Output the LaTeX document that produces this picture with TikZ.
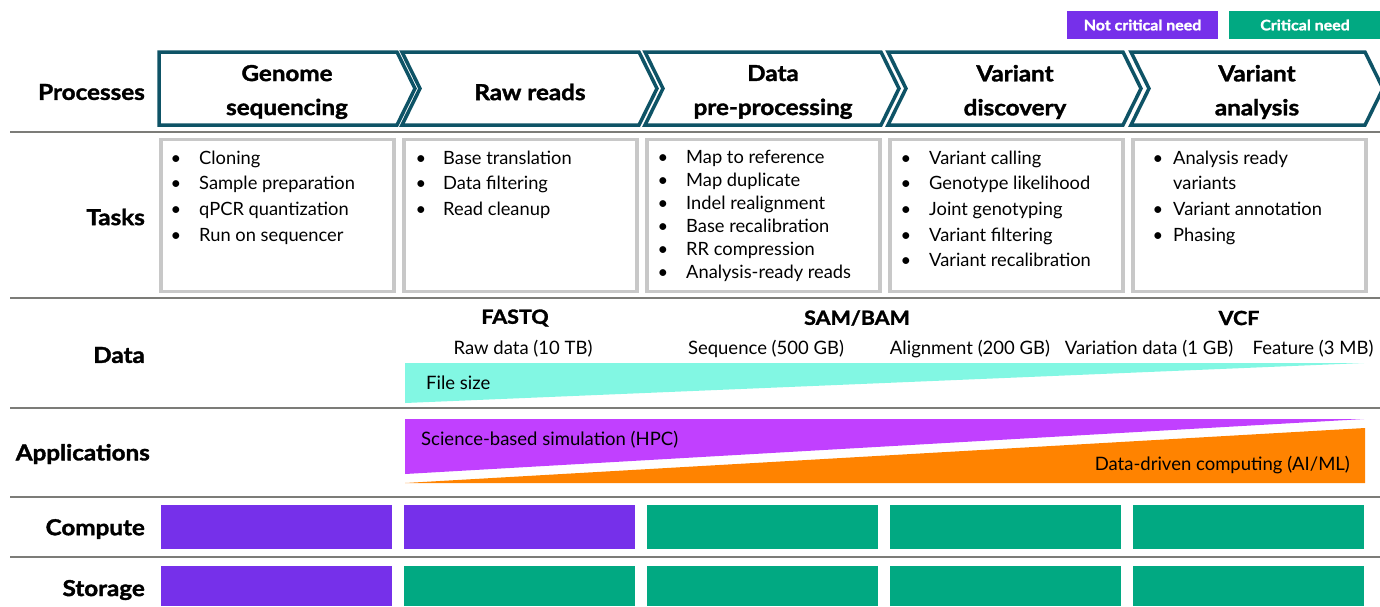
\documentclass[tikz,border=0pt]{standalone}
\usepackage{fontspec}
\setmainfont{Lato}[BoldFeatures={FakeBold=1.6,FakeStretch=1.1}]
\definecolor{chevc}{HTML}{0E5366}
\definecolor{boxgray}{HTML}{C8C8C8}
\definecolor{sepgray}{HTML}{7C7C78}
\definecolor{hpepurple}{HTML}{7630EA}
\definecolor{hpegreen}{HTML}{01A982}
\definecolor{filecyan}{HTML}{82F7E3}
\definecolor{apppurple}{HTML}{C140FF}
\definecolor{apporange}{HTML}{FF8300}
\begin{document}
\begin{tikzpicture}[x=1pt,y=-1pt]
\useasboundingbox (0,0) rectangle (1380,606);
\tikzset{
  chev/.style={draw=chevc, line width=3.5pt, fill=white, line join=miter},
  taskbox/.style={draw=boxgray, line width=3.5pt, fill=white},
  sep/.style={draw=sepgray, line width=2pt},
  rowlbl/.style={font=\bfseries\fontsize{22}{26}\selectfont, anchor=east, inner sep=0pt},
  chevtxt/.style={font=\bfseries\fontsize{22}{34}\selectfont, align=center, inner sep=0pt},
  tasktxt/.style={font=\fontsize{18.3}{22}\selectfont, inner sep=0pt},
  datahead/.style={font=\bfseries\fontsize{19.5}{24}\selectfont, inner sep=0pt},
  datatxt/.style={font=\fontsize{18.5}{22}\selectfont, inner sep=0pt},
  legtxt/.style={font=\bfseries\fontsize{14.5}{18}\selectfont, text=white, inner sep=0pt},
  critbox/.style={fill=hpegreen, draw=none},
  ncritbox/.style={fill=hpepurple, draw=none}
}
% legend
\fill[ncritbox] (1067,11) rectangle (1218,39);
\node[legtxt] (legn) at (1142.5,25) {Not critical need};
\fill[critbox] (1229,11) rectangle (1380,39);
\node[legtxt] (legc) at (1305,25) {Critical need};

% separators
\foreach \yy in {132,298,408,497,557} \draw[sep] (10,\yy) -- (1380,\yy);

% chevrons
\draw[chev] (159,52) -- (397,52) -- (415,88.5) -- (397,125) -- (159,125) -- cycle;
\foreach \i in {1,2,3,4} {
  \pgfmathsetmacro{\L}{159+243*\i}
  \pgfmathsetmacro{\R}{397+242*\i}
  \draw[chev] (\L,52) -- (\R,52) -- (\R+18,88.5) -- (\R,125) -- (\L,125) -- (\L+18,88.5) -- cycle;
}
\node[chevtxt] (p1) at (287,92) {Genome\\sequencing};
\node[chevtxt] (p2) at (530,92) {Raw reads};
\node[chevtxt] (p3) at (773,92) {Data\\pre-processing};
\node[chevtxt] (p4) at (1015,92) {Variant\\discovery};
\node[chevtxt] (p5) at (1257,92) {Variant\\analysis};

% row labels
\node[rowlbl] (lp) at (145,92) {Processes};
\node[rowlbl] (lt) at (145,217) {Tasks};
\node[rowlbl] (ld) at (145,355) {Data};
\node[rowlbl] (la) at (150,454) {Applications};
\node[rowlbl] (lc) at (145,529) {Compute};
\node[rowlbl] (ls) at (145,590) {Storage};

% task boxes
\foreach \i in {0,...,4} {
  \pgfmathsetmacro{\L}{160.75+243*\i}
  \draw[taskbox] (\L,139.5) rectangle (\L+233,291.5);
}
% box 1
\foreach \t [count=\k] in {Cloning, Sample preparation, qPCR quantization, Run on sequencer} {
  \pgfmathsetmacro{\yb}{164+25.7*(\k-1)}
  \node[tasktxt, anchor=base] (ba\k) at (176,\yb) {\textbullet};
  \node[tasktxt, anchor=base west] (ta\k) at (199,\yb) {\t};
}
% box 2
\foreach \t [count=\k] in {Base translation, Data filtering, Read cleanup} {
  \pgfmathsetmacro{\yb}{164+25.7*(\k-1)}
  \node[tasktxt, anchor=base] (bb\k) at (421,\yb) {\textbullet};
  \node[tasktxt, anchor=base west] (tb\k) at (443,\yb) {\t};
}
% box 3
\foreach \t [count=\k] in {Map to reference, Map duplicate, Indel realignment, Base recalibration, RR compression, Analysis-ready reads} {
  \pgfmathsetmacro{\yb}{163+23*(\k-1)}
  \node[tasktxt, anchor=base] (bc\k) at (663,\yb) {\textbullet};
  \node[tasktxt, anchor=base west] (tc\k) at (686,\yb) {\t};
}
% box 4
\foreach \t [count=\k] in {Variant calling, Genotype likelihood, Joint genotyping, Variant filtering, Variant recalibration} {
  \pgfmathsetmacro{\yb}{164+25.7*(\k-1)}
  \node[tasktxt, anchor=base] (bd\k) at (906,\yb) {\textbullet};
  \node[tasktxt, anchor=base west] (td\k) at (929,\yb) {\t};
}
% box 5
\node[tasktxt, anchor=base] (be1) at (1158,164) {\textbullet};
\node[tasktxt, anchor=base west] (te1) at (1173,164) {Analysis ready};
\node[tasktxt, anchor=base west] (te1b) at (1173,189.7) {variants};
\node[tasktxt, anchor=base] (be2) at (1158,215.4) {\textbullet};
\node[tasktxt, anchor=base west] (te2) at (1173,215.4) {Variant annotation};
\node[tasktxt, anchor=base] (be3) at (1158,241.1) {\textbullet};
\node[tasktxt, anchor=base west] (te3) at (1173,241.1) {Phasing};

% data row
\node[datahead] (dfq) at (515,318) {FASTQ};
\node[datahead] (dsb) at (857,318) {SAM/BAM};
\node[datahead] (dvc) at (1239,318) {VCF};
\node[datatxt] (d1) at (523,349) {Raw data (10 TB)};
\node[datatxt] (d2) at (766,349) {Sequence (500 GB)};
\node[datatxt] (d3) at (970,349) {Alignment (200 GB)};
\node[datatxt] (d4) at (1149,349) {Variation data (1 GB)};
\node[datatxt] (d5) at (1313,349) {Feature (3 MB)};
\fill[filecyan] (405,363) -- (1364,363) -- (405,403) -- cycle;
\node[datatxt, anchor=west] (fs) at (426,383) {File size};

% applications
\fill[apppurple] (405,419) -- (1364,419) -- (405,474) -- cycle;
\fill[apporange] (1365,428) -- (1365,483) -- (405,483) -- cycle;
\node[datatxt, anchor=west] (ahpc) at (421,440) {Science-based simulation (HPC)};
\node[datatxt, anchor=east] (aai) at (1350,465) {Data-driven computing (AI/ML)};

% compute & storage
\foreach \i/\st in {0/ncritbox,1/ncritbox,2/critbox,3/critbox,4/critbox} {
  \pgfmathsetmacro{\L}{161+243*\i}
  \fill[\st] (\L,505) rectangle (\L+231,549);
}
\foreach \i/\st in {0/ncritbox,1/critbox,2/critbox,3/critbox,4/critbox} {
  \pgfmathsetmacro{\L}{161+243*\i}
  \fill[\st] (\L,566) rectangle (\L+231,606);
}
\end{tikzpicture}
\end{document}
